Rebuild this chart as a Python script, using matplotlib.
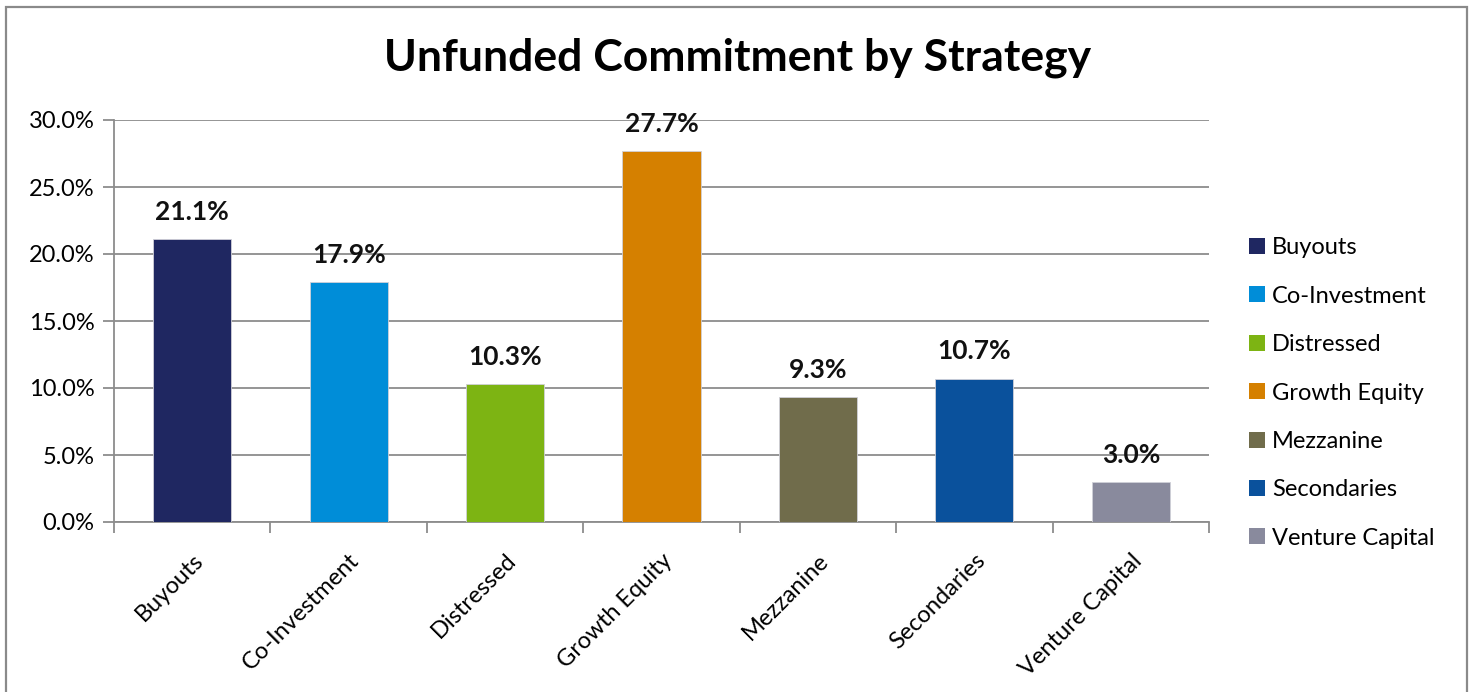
import matplotlib
matplotlib.use("Agg")
import matplotlib.pyplot as plt
from matplotlib.patches import Rectangle
from matplotlib.ticker import MultipleLocator, FuncFormatter

plt.rcParams['font.family'] = ['Lato', 'DejaVu Sans']

# Strategy data
strategies = ["Buyouts", "Co-Investment", "Distressed", "Growth Equity",
              "Mezzanine", "Secondaries", "Venture Capital"]
unfunded_pct = [21.1, 17.9, 10.3, 27.7, 9.3, 10.7, 3.0]
bar_colors = ["#1F2761", "#008DD8", "#7DB413", "#D58000",
              "#706C4B", "#0A519C", "#898A9D"]

grid_gray = "#8C8C8C"

fig = plt.figure(figsize=(14.73, 6.92), dpi=100)
ax = fig.add_axes([114 / 1473, 1 - 522 / 692, (1209 - 114) / 1473, (522 - 120) / 692])

x = list(range(len(strategies)))
bars = ax.bar(x, unfunded_pct, width=0.5, color=bar_colors,
              edgecolor="#D0D0D8", linewidth=0.6, label=strategies, zorder=3)

# Value labels above each bar
for xi, v in zip(x, unfunded_pct):
    ax.annotate(f"{v:.1f}%", (xi, v), xytext=(0, 11), textcoords="offset points",
                ha="center", va="bottom", fontsize=19, fontweight="bold",
                color="#111111")

ax.set_xlim(-0.5, len(strategies) - 0.5)
ax.set_ylim(0, 30)
ax.yaxis.set_major_locator(MultipleLocator(5))
ax.yaxis.set_major_formatter(FuncFormatter(lambda v, p: f"{v:.1f}%"))
ax.yaxis.grid(True, color=grid_gray, linewidth=1.3, zorder=0)
ax.set_axisbelow(True)

# Category ticks sit between the bars
ax.set_xticks([i - 0.5 for i in range(len(strategies) + 1)], minor=False)
ax.set_xticklabels([])
ax.set_xticks(x, minor=True)
ax.set_xticklabels(strategies, minor=True, rotation=45, ha="right",
                   rotation_mode="anchor", fontsize=17)
ax.tick_params(axis="x", which="major", length=8, color=grid_gray, width=1.3)
ax.tick_params(axis="x", which="minor", length=0, pad=20)
ax.tick_params(axis="y", length=8, color=grid_gray, width=1.3, labelsize=17,
               pad=6)

for side in ["top", "right"]:
    ax.spines[side].set_visible(False)
ax.spines["left"].set_color(grid_gray)
ax.spines["left"].set_linewidth(1.3)
ax.spines["bottom"].set_color(grid_gray)
ax.spines["bottom"].set_linewidth(1.3)

fig.text(738 / 1473, 1 - 58 / 692, "Unfunded Commitment by Strategy",
         ha="center", va="center", fontsize=32, fontweight="bold", color="#000000")

leg = ax.legend(handles=bars.patches, labels=strategies, loc="center left",
                bbox_to_anchor=(1228 / 1473, 1 - 393 / 692),
                bbox_transform=fig.transFigure, frameon=False, fontsize=17,
                handlelength=0.67, handleheight=0.67, handletextpad=0.3,
                labelspacing=1.16)
for h in leg.legend_handles:
    h.set_edgecolor("none")

# Outer chart border
fig.patches.append(Rectangle((6 / 1473, -0.05), (1467 - 6) / 1473, 1.05 - 7 / 692,
                             transform=fig.transFigure, fill=False,
                             edgecolor="#8A8A8A", linewidth=1.6, zorder=10))

fig.savefig("out.png", dpi=100)
